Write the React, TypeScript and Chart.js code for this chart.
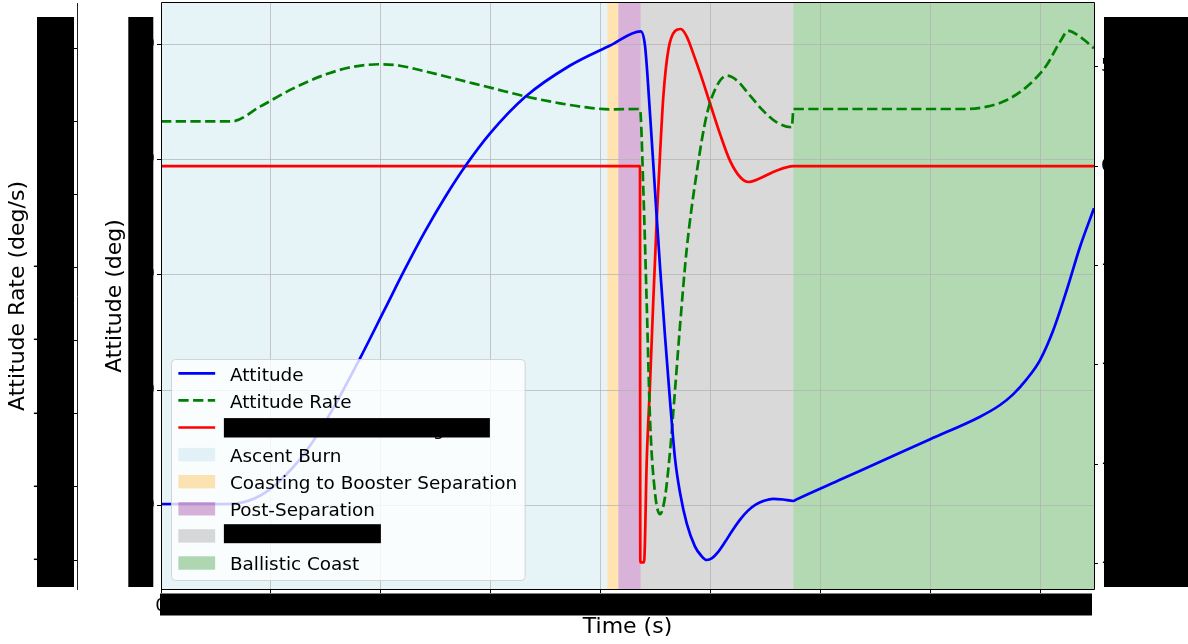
import React, { useEffect, useRef } from "react";
import { Chart, registerables } from "chart.js";

Chart.register(...registerables);

const FONT_FAMILY = "'DejaVu Sans', sans-serif";
Chart.defaults.font.family = FONT_FAMILY;

// ---- axis ticks -------------------------------------------------------------
const TIME_TICKS = [0, 10, 20, 30, 40, 50, 60, 70, 80];
const TIME_TICK_LABELS = ["0", "10", "20", "30", "40", "50", "60", "70", "80"];
const ATTITUDE_TICKS = [0, 20, 40, 60, 80];
const ATTITUDE_TICK_LABELS = ["0", "20", "40", "60", "80"];
const RATE_TICKS = [-30, -25, -20, -15, -10, -5, 0, 5];
const RATE_TICK_LABELS = ["\u221230", "\u221225", "\u221220", "\u221215", "\u221210", "\u22125", "0", "5"];
const CONTROL_TICKS = [-20, -15, -10, -5, 0, 5];
const CONTROL_TICK_LABELS = ["\u221220", "\u221215", "\u221210", "\u22125", "0", "5"];

const TIME_RANGE = [0, 84.91];
const ATTITUDE_RANGE = [-14.52, 87.17];
const RATE_RANGE = [-31.98, 8.1];
const CONTROL_RANGE = [-21.29, 8.21];

// ---- series -----------------------------------------------------------------
const ATTITUDE_T = [
  0, 5.37, 6.92, 9.01, 10.83, 13.11, 15.38, 18.11, 20.39, 22.21, 24.03, 25.85, 27.67, 29.95, 33.13,
  37.23, 40.87, 43.66, 44.05, 44.51, 44.96, 45.42, 45.87, 46.33, 46.78, 47.24, 47.85, 48.6, 49.15, 49.67,
  50.15, 50.69, 51.33, 51.97, 52.7, 53.42, 54.15, 54.88, 55.7, 56.61, 57.55, 57.8, 62.0, 66.0, 70.0, 74.54,
  76.36, 77.57, 78.79, 80.0, 81.21, 82.43, 83.64, 84.91,
];
const ATTITUDE_DEG = [
  0.23, 0.23, 0.35, 1.67, 4.27, 9.14, 15.87, 25.51, 34.13, 41.02, 47.53, 53.46, 58.79, 64.54, 70.85,
  76.32, 79.79, 82.26, 79.72, 67.78, 54.54, 41.25, 29.31, 18.03, 8.09, 2.13, -3.19, -7.17, -8.71, -9.49,
  -9.16, -8.12, -6.37, -4.46, -2.48, -0.92, 0.16, 0.78, 1.13, 1.01, 0.75, 0.99, 4.6, 8.04, 11.47, 15.38,
  17.41, 19.3, 21.9, 25.21, 30.42, 37.36, 44.88, 51.54,
];

const RATE_T = [
  0, 6.43, 9.01, 12.04, 15.08, 17.5, 20.02, 21.75, 24.18, 27.21, 30.24, 33.28, 36.32, 39.04, 40.87, 43.59,
  43.9, 44.21, 44.51, 44.96, 45.42, 45.87, 46.33, 46.78, 47.24, 47.85, 48.76, 49.67, 50.58, 51.49, 52.4,
  53.61, 54.82, 56.04, 57.41, 57.56, 73.33, 75.15, 76.97, 78.79, 80.61, 81.82, 82.58, 83.64, 84.91,
];
const RATE_DEG_S = [
  0, 0, 1.01, 2.26, 3.24, 3.74, 3.91, 3.81, 3.4, 2.83, 2.26, 1.69, 1.24, 0.93, 0.83, 0.85,
  -4.76, -12.61, -20.46, -25.42, -26.86, -25.69, -22.54, -18.37, -13.93, -8.69, -3.46, 0.46, 2.42, 3.13, 2.81,
  1.76, 0.72, -0.06, -0.4, 0.85, 0.85, 1.01, 1.46, 2.37, 3.86, 5.45, 6.2, 5.79, 5.0,
];

const CONTROL_T = [
  0, 43.59, 43.62, 43.96, 44.21, 44.51, 44.81, 45.12, 45.42, 45.72, 46.17, 46.78, 47.3, 47.85, 48.45,
  49.06, 49.97, 50.88, 51.79, 52.7, 53.46, 54.52, 56.04, 57.55, 84.91,
];
const CONTROL_DEG = [
  0, 0, -19.95, -19.95, -14.75, -10.89, -6.66, -2.63, 0.64, 3.53, 5.84, 6.8, 6.9, 6.52, 5.65,
  4.69, 3.15, 1.61, 0.26, -0.55, -0.8, -0.61, -0.22, 0, 0,
];

// ---- flight phases ------------------------------------------------------------
const PHASE_NAMES = [
  "Ascent Burn",
  "Coasting to Booster Separation",
  "Post-Separation",
  "Stabilization",
  "Ballistic Coast",
];
const PHASE_START = [0, 40.62, 41.62, 43.66, 57.55];
const PHASE_END = [40.62, 41.62, 43.66, 57.55, 84.91];
const PHASE_COLORS = [
  "rgba(173,216,230,0.3)",
  "rgba(255,165,0,0.3)",
  "rgba(128,0,128,0.3)",
  "rgba(128,128,128,0.3)",
  "rgba(0,128,0,0.3)",
];

const SERIES_LABELS = ["Attitude", "Attitude Rate", "Control Command (deg)"];
const SERIES_COLORS = ["#0000ff", "#008000", "#ff0000"];

const GRID_COLOR = "rgba(176,176,176,0.7)";
const LINE_WIDTH = 2.7;
const DASH = [10.3, 4.4];

const toPoints = (xs: number[], ys: number[]) => xs.map((x, i) => ({ x, y: ys[i] }));

// bands behind the grid
const phaseBands = {
  id: "phaseBands",
  beforeDraw(chart: any) {
    const { ctx, chartArea: ca, scales } = chart;
    const xs = scales.x;
    ctx.save();
    ctx.fillStyle = "#ffffff";
    ctx.fillRect(0, 0, chart.width, chart.height);
    PHASE_START.forEach((s, i) => {
      const x0 = xs.getPixelForValue(s);
      const x1 = xs.getPixelForValue(PHASE_END[i]);
      ctx.fillStyle = PHASE_COLORS[i];
      ctx.fillRect(x0, ca.top, x1 - x0, ca.bottom - ca.top);
    });
    ctx.restore();
  },
};

// frame, legend and blacked-out labels
const overlays = {
  id: "overlays",
  afterDraw(chart: any) {
    const { ctx, chartArea: ca, scales } = chart;
    ctx.save();

    // axes frame
    ctx.strokeStyle = "#000";
    ctx.lineWidth = 1;
    ctx.beginPath();
    ctx.rect(ca.left + 0.5, ca.top - 0.5, ca.right - ca.left, ca.bottom - ca.top + 1);
    ctx.stroke();

    // legend
    const fs = 18.4;
    ctx.font = `${fs}px ${FONT_FAMILY}`;
    const labels = [...SERIES_LABELS, ...PHASE_NAMES];
    const maxW = Math.max(...labels.map((l) => ctx.measureText(l).width));
    const pad = 0.4 * fs;
    const handleW = 2 * fs;
    const gap = 0.8 * fs;
    const rowStep = 27.1;
    const boxW = pad + handleW + gap + maxW + pad;
    const boxH = 221;
    const bx = ca.left + 10;
    const by = ca.bottom - 9 - boxH;
    ctx.beginPath();
    (ctx as any).roundRect(bx + 0.5, by + 0.5, boxW, boxH, 4);
    ctx.fillStyle = "rgba(255,255,255,0.8)";
    ctx.fill();
    ctx.strokeStyle = "rgba(204,204,204,0.8)";
    ctx.lineWidth = 1;
    ctx.stroke();

    const hx = bx + pad;
    const tx = hx + handleW + gap;
    const rowY = (i: number) => by + 14.3 + rowStep * i;
    labels.forEach((label, i) => {
      const cy = rowY(i);
      if (i < SERIES_LABELS.length) {
        ctx.strokeStyle = SERIES_COLORS[i];
        ctx.lineWidth = LINE_WIDTH;
        ctx.setLineDash(i === 1 ? DASH : []);
        ctx.beginPath();
        ctx.moveTo(hx, cy);
        ctx.lineTo(hx + handleW, cy);
        ctx.stroke();
        ctx.setLineDash([]);
      } else {
        ctx.fillStyle = PHASE_COLORS[i - SERIES_LABELS.length];
        ctx.fillRect(hx, cy - 6.7, handleW, 13.4);
      }
      ctx.fillStyle = "#000";
      ctx.textBaseline = "alphabetic";
      ctx.textAlign = "left";
      ctx.fillText(label, tx, cy + 7.2);
    });

    // blacked-out text
    ctx.fillStyle = "#000";
    ctx.fillRect(tx - 6, rowY(2) - 9.4, 266, 19.4);
    ctx.fillRect(tx - 6, rowY(6) - 11.7, 157, 19);

    const yR = scales.yRate;
    const yA = scales.yAtt;
    const yC = scales.yCtrl;
    const xs = scales.x;
    const top = ca.top + 14;
    const bottom = ca.bottom - 2;
    ctx.fillRect(37, top, yR.right - 3 - 37, bottom - top);
    ctx.fillRect(yA.left + 51.3, top, yA.right - 7.7 - (yA.left + 51.3), bottom - top);
    ctx.fillRect(yC.left + 10, top, chart.width - (yC.left + 10), bottom - top);
    ctx.fillRect(ca.left - 1, xs.top + 4.5, ca.right - 2 - (ca.left - 1), 22);

    ctx.restore();
  },
};

const fixedTicks = (values: number[]) => (scale: any) => {
  scale.ticks = values.map((v) => ({ value: v }));
};

const fixedSize = (size: number, horizontal: boolean) => (scale: any) => {
  if (horizontal) scale.height = size;
  else scale.width = size;
  scale.paddingTop = 0;
  scale.paddingBottom = 0;
  scale.paddingLeft = 0;
  scale.paddingRight = 0;
};

function App() {
  const canvasRef = useRef<HTMLCanvasElement>(null);

  useEffect(() => {
    const canvas = canvasRef.current;
    if (!canvas) return;

    const tickFont = { size: 18, family: FONT_FAMILY };
    const titleFont = { size: 22, family: FONT_FAMILY };

    const chart = new Chart(canvas, {
      type: "line",
      data: {
        datasets: [
          {
            label: SERIES_LABELS[0],
            data: toPoints(ATTITUDE_T, ATTITUDE_DEG),
            borderColor: SERIES_COLORS[0],
            yAxisID: "yAtt",
          },
          {
            label: SERIES_LABELS[1],
            data: toPoints(RATE_T, RATE_DEG_S),
            borderColor: SERIES_COLORS[1],
            borderDash: DASH,
            yAxisID: "yRate",
          },
          {
            label: SERIES_LABELS[2],
            data: toPoints(CONTROL_T, CONTROL_DEG),
            borderColor: SERIES_COLORS[2],
            yAxisID: "yCtrl",
          },
        ],
      },
      options: {
        responsive: false,
        animation: false,
        devicePixelRatio: 1,
        layout: { padding: { top: 3, left: 0, right: 0, bottom: 0 } },
        plugins: { legend: { display: false }, tooltip: { enabled: false } },
        elements: {
          point: { radius: 0 },
          line: {
            borderWidth: LINE_WIDTH,
            tension: 0,
            cubicInterpolationMode: "monotone",
            borderJoinStyle: "round",
            fill: false,
          },
        },
        scales: {
          x: {
            type: "linear",
            position: "bottom",
            min: TIME_RANGE[0],
            max: TIME_RANGE[1],
            afterBuildTicks: fixedTicks(TIME_TICKS),
            afterFit: fixedSize(55, true),
            ticks: {
              autoSkip: false,
              maxRotation: 0,
              padding: 3,
              color: "#000",
              font: tickFont,
              callback: (_v: any, i: number) => TIME_TICK_LABELS[i],
            },
            grid: { color: GRID_COLOR, lineWidth: 1, tickLength: 4, tickColor: "#000", tickWidth: 1 },
            border: { display: false },
            title: { display: true, text: "Time (s)", color: "#000", font: titleFont, padding: { top: 0, bottom: 3.4 } },
          },
          yAtt: {
            type: "linear",
            position: "left",
            weight: 0,
            min: ATTITUDE_RANGE[0],
            max: ATTITUDE_RANGE[1],
            afterBuildTicks: fixedTicks(ATTITUDE_TICKS),
            afterFit: fixedSize(84, false),
            ticks: {
              autoSkip: false,
              padding: 2,
              color: "#000",
              font: tickFont,
              callback: (_v: any, i: number) => ATTITUDE_TICK_LABELS[i],
            },
            grid: { color: GRID_COLOR, lineWidth: 1, tickLength: 4, tickColor: "#000", tickWidth: 1 },
            border: { display: false },
            title: { display: true, text: "Attitude (deg)", color: "#000", font: titleFont, padding: { top: 25.4, bottom: 0 } },
          },
          yRate: {
            type: "linear",
            position: "left",
            weight: 1,
            min: RATE_RANGE[0],
            max: RATE_RANGE[1],
            afterBuildTicks: fixedTicks(RATE_TICKS),
            afterFit: fixedSize(77, false),
            ticks: {
              autoSkip: false,
              padding: 3,
              color: "#000",
              font: tickFont,
              callback: (_v: any, i: number) => RATE_TICK_LABELS[i],
            },
            grid: { drawOnChartArea: false, tickLength: 4, tickColor: "#000", tickWidth: 1 },
            border: { display: true, color: "#222", width: 1 },
            title: { display: true, text: "Attitude Rate (deg/s)", color: "#000", font: titleFont, padding: { top: 5.4, bottom: 0 } },
          },
          yCtrl: {
            type: "linear",
            position: "right",
            min: CONTROL_RANGE[0],
            max: CONTROL_RANGE[1],
            afterBuildTicks: fixedTicks(CONTROL_TICKS),
            afterFit: fixedSize(94, false),
            ticks: {
              autoSkip: false,
              padding: 3,
              color: "#000",
              font: tickFont,
              callback: (_v: any, i: number) => CONTROL_TICK_LABELS[i],
            },
            grid: { drawOnChartArea: false, tickLength: 4, tickColor: "#000", tickWidth: 1 },
            border: { display: false },
          },
        },
      },
      plugins: [phaseBands, overlays],
    } as any);

    return () => chart.destroy();
  }, []);

  return (
    <div style={{ position: "absolute", left: 0, top: 0, width: 1188, height: 644, background: "#fff" }}>
      <canvas ref={canvasRef} width={1188} height={644} style={{ display: "block", width: 1188, height: 644 }} />
    </div>
  );
}

export default App;
